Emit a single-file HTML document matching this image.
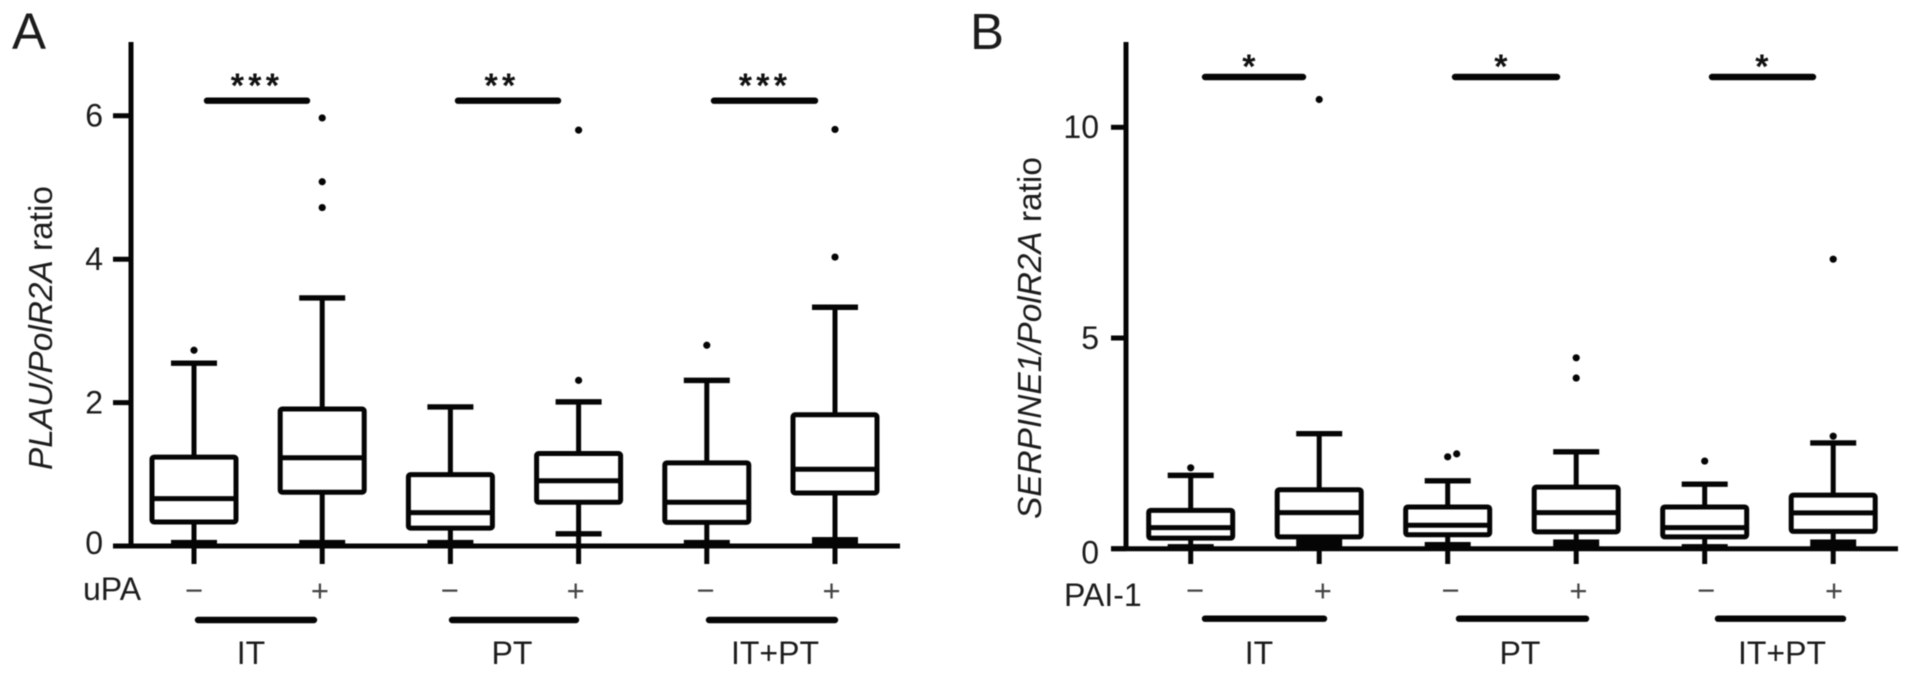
<!DOCTYPE html>
<html lang="en">
<head>
<meta charset="utf-8">
<title>PLAU and SERPINE1 box plots</title>
<style>
html,body{margin:0;padding:0;background:#fff;width:1913px;height:677px;overflow:hidden}
svg{display:block;filter:blur(.6px)}
text{font-family:"Liberation Sans",sans-serif;fill:#1c1c1c}
.lbl{font-size:32px}
.title{font-size:33.4px}
.sign{font-size:31px;fill:#444;text-anchor:middle}
.grp{font-size:32px;text-anchor:middle}
.star{font-size:34px;font-weight:bold;letter-spacing:4.3px;text-anchor:middle;fill:#111}
.bar{stroke:#050505;stroke-width:6.4;stroke-linecap:round}
</style>
</head>
<body>
<svg id="chart" width="1913" height="677" viewBox="0 0 1913 677" xmlns="http://www.w3.org/2000/svg">
  <rect x="0" y="0" width="1913" height="677" fill="#fff"/>
  <text x="12" y="49" font-size="51">A</text>
  <text x="970" y="49" font-size="51">B</text>

  <text class="title" transform="translate(52,470) rotate(-90)"><tspan font-style="italic">PLAU/PolR2A</tspan> ratio</text>
  <text class="title" transform="translate(1041,519) rotate(-90)"><tspan font-style="italic">SERPINE1/PolR2A</tspan> ratio</text>

  <line class="bar" x1="207" y1="100.7" x2="307" y2="100.7"/>
  <line class="bar" x1="458" y1="100.7" x2="558" y2="100.7"/>
  <line class="bar" x1="714" y1="100.7" x2="815" y2="100.7"/>
  <text class="star" x="257" y="97">***</text>
  <text class="star" x="502" y="97">**</text>
  <text class="star" x="765" y="97">***</text>

  <line class="bar" x1="1205" y1="77" x2="1303" y2="77"/>
  <line class="bar" x1="1455" y1="77" x2="1557" y2="77"/>
  <line class="bar" x1="1712" y1="77" x2="1813" y2="77"/>
  <text class="star" x="1251" y="78">*</text>
  <text class="star" x="1503" y="78">*</text>
  <text class="star" x="1764" y="78">*</text>

  <text class="lbl" x="83" y="600" font-size="31">uPA</text>
  <text class="lbl" x="1064" y="606">PAI-1</text>

  <line class="bar" x1="198" y1="620" x2="314" y2="620"/>
  <line class="bar" x1="452" y1="620" x2="576" y2="620"/>
  <line class="bar" x1="709" y1="620" x2="835" y2="620"/>
  <line class="bar" x1="1205" y1="618.7" x2="1324" y2="618.7"/>
  <line class="bar" x1="1459" y1="618.7" x2="1586" y2="618.7"/>
  <line class="bar" x1="1718" y1="618.7" x2="1843" y2="618.7"/>

  <text class="grp" x="251" y="664">IT</text>
  <text class="grp" x="512" y="664">PT</text>
  <text class="grp" x="775" y="664">IT+PT</text>
  <text class="grp" x="1259" y="664">IT</text>
  <text class="grp" x="1520" y="664">PT</text>
  <text class="grp" x="1782" y="664">IT+PT</text>
</svg>
<script>
// Panel A: PLAU/PolR2A ratio
const signs = ['−', '+', '−', '+', '−', '+'];
const aTicks = [0, 2, 4, 6];
const aHigh = [2.55, 3.46, 1.94, 2.01, 2.31, 3.33];
const aQ3 = [1.24, 1.91, 0.995, 1.29, 1.16, 1.83];
const aMedian = [0.66, 1.23, 0.465, 0.91, 0.61, 1.07];
const aQ1 = [0.335, 0.75, 0.25, 0.61, 0.33, 0.74];
const aLow = [0.05, 0.05, 0.05, 0.17, 0.05, 0.09];
const aOutliers = [[2.73], [5.97, 5.08, 4.72], [], [2.31, 5.80], [2.80], [5.81, 4.03]];

// Panel B: SERPINE1/PolR2A ratio
const bTicks = [0, 5, 10];
const bHigh = [1.74, 2.73, 1.61, 2.30, 1.53, 2.51];
const bQ3 = [0.91, 1.40, 0.99, 1.46, 0.99, 1.27];
const bMedian = [0.50, 0.855, 0.555, 0.855, 0.50, 0.85];
const bQ1 = [0.25, 0.28, 0.33, 0.40, 0.28, 0.41];
const bLow = [0.05, 0.2, 0.1, 0.16, 0.05, 0.16];
const bOutliers = [[1.92], [10.66], [2.18, 2.25], [4.53, 4.05], [2.08], [2.67, 6.87]];

const svg = document.getElementById('chart');
const NS = 'http://www.w3.org/2000/svg';

function make(tag, attrs, parent) {
  const el = document.createElementNS(NS, tag);
  for (const k in attrs) el.setAttribute(k, attrs[k]);
  parent.appendChild(el);
  return el;
}

function seg(parent, x1, y1, x2, y2, w) {
  return make('line', {x1: x1, y1: y1, x2: x2, y2: y2, stroke: '#050505', 'stroke-width': w}, parent);
}

function drawPanel(p) {
  const y = v => p.y0 - v * p.unit;
  const x = i => p.x0 + i * p.step;
  const weight = 5;

  const root = make('g', {}, svg);
  
  

  const yAxis = seg(root, p.axisX, 42, p.axisX, p.y0 + 2, weight);
  
  

  const xAxis = seg(root, p.tickX, p.y0, p.xEnd, p.y0, weight);
  
  

  p.ticks.forEach(t => {
    const tick = seg(root, p.tickX, y(t), p.axisX, y(t), weight);
    
    

    const dy = t === 0 ? p.zeroDy : 10.8;
    const lab = make('text', {x: p.labelX, y: y(t) + dy, 'text-anchor': 'end', 'font-size': 32}, root);
    lab.textContent = t;
    
    
  });

  signs.forEach((s, i) => {
    const g = make('g', {}, root);
    
    

    const c = x(i);
    const halfBox = 42;
    const halfCap = 23;

    seg(g, c, y(p.high[i]), c, y(p.q3[i]), weight);
    seg(g, c, y(p.q1[i]), c, 564, weight);
    seg(g, c - halfCap, y(p.high[i]), c + halfCap, y(p.high[i]), 5.4);

    // A lower cap resting on the x axis merges with it as a solid block;
    // one further above the axis stays a plain line.
    if (p.y0 - y(p.low[i]) < 10) {
      make('rect', {
        x: c - halfCap,
        y: y(p.low[i]) - 2.5,
        width: halfCap * 2,
        height: p.y0 - y(p.low[i]) + 2.5,
        fill: '#050505'
      }, g);
    } else {
      seg(g, c - halfCap, y(p.low[i]), c + halfCap, y(p.low[i]), 5.4);
    }

    make('rect', {
      x: c - halfBox,
      y: y(p.q3[i]),
      width: halfBox * 2,
      height: y(p.q1[i]) - y(p.q3[i]),
      rx: 2,
      fill: 'none',
      stroke: '#050505',
      'stroke-width': weight
    }, g);
    seg(g, c - halfBox, y(p.med[i]), c + halfBox, y(p.med[i]), weight);

    let prev = null;
    p.out[i].forEach(v => {
      const shift = prev !== null && Math.abs(prev - v) < 0.15 ? 9 : 0;
      const dot = make('circle', {cx: c + shift, cy: y(v), r: 3.6, fill: '#050505'}, g);
      
      
      prev = v;
    });

    const sign = make('text', {class: 'sign', x: p.signX(i), y: 601}, root);
    sign.textContent = s;
    
    
  });
}

drawPanel({
  id: 'a', y0: 546, unit: 71.7, x0: 194, step: 128.2,
  axisX: 131, tickX: 113, xEnd: 900, labelX: 103, zeroDy: 8,
  ticks: aTicks, high: aHigh, q3: aQ3, med: aMedian, q1: aQ1, low: aLow, out: aOutliers,
  signX: i => 194 + i * 127.9 - (i % 2 ? 2 : 0)
});

drawPanel({
  id: 'b', y0: 548.7, unit: 42.14, x0: 1190.7, step: 128.5,
  axisX: 1126, tickX: 1111, xEnd: 1898, labelX: 1099, zeroDy: 15,
  ticks: bTicks, high: bHigh, q3: bQ3, med: bMedian, q1: bQ1, low: bLow, out: bOutliers,
  signX: i => 1195 + i * 127.8
});
</script>
</body>
</html>
